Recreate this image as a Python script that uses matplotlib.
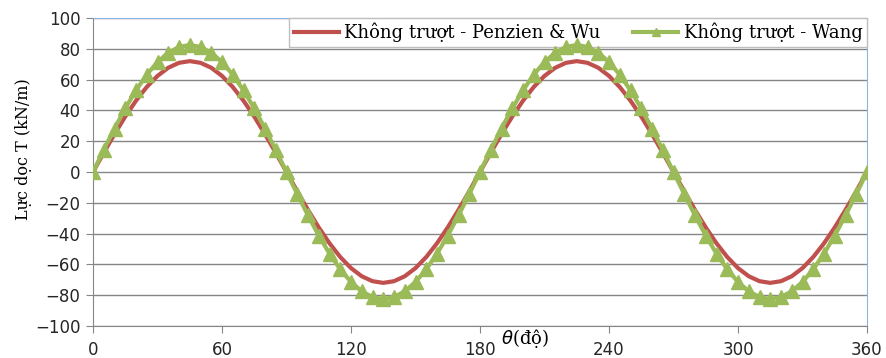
import matplotlib
matplotlib.use("Agg")
import matplotlib.pyplot as plt

theta = list(range(0, 365, 5))

penzien_wu = [
    0, 12.5, 24.6, 36.0, 46.3, 55.2, 62.4, 67.7, 70.9, 72.0, 70.9, 67.7, 62.4, 55.2, 46.3, 36.0, 24.6, 12.5, 0,
    -12.5, -24.6, -36.0, -46.3, -55.2, -62.4, -67.7, -70.9, -72.0, -70.9, -67.7, -62.4, -55.2, -46.3, -36.0, -24.6, -12.5, 0,
    12.5, 24.6, 36.0, 46.3, 55.2, 62.4, 67.7, 70.9, 72.0, 70.9, 67.7, 62.4, 55.2, 46.3, 36.0, 24.6, 12.5, 0,
    -12.5, -24.6, -36.0, -46.3, -55.2, -62.4, -67.7, -70.9, -72.0, -70.9, -67.7, -62.4, -55.2, -46.3, -36.0, -24.6, -12.5, 0,
]

wang = [
    0, 14.3, 28.2, 41.3, 53.0, 63.2, 71.4, 77.5, 81.2, 82.5, 81.2, 77.5, 71.4, 63.2, 53.0, 41.3, 28.2, 14.3, 0,
    -14.3, -28.2, -41.3, -53.0, -63.2, -71.4, -77.5, -81.2, -82.5, -81.2, -77.5, -71.4, -63.2, -53.0, -41.3, -28.2, -14.3, 0,
    14.3, 28.2, 41.3, 53.0, 63.2, 71.4, 77.5, 81.2, 82.5, 81.2, 77.5, 71.4, 63.2, 53.0, 41.3, 28.2, 14.3, 0,
    -14.3, -28.2, -41.3, -53.0, -63.2, -71.4, -77.5, -81.2, -82.5, -81.2, -77.5, -71.4, -63.2, -53.0, -41.3, -28.2, -14.3, 0,
]

x_ticks = [0, 60, 120, 180, 240, 300, 360]
y_ticks = [-100, -80, -60, -40, -20, 0, 20, 40, 60, 80, 100]

label_pw = "Không trượt - Penzien & Wu"
label_wang = "Không trượt - Wang"
y_label = "Lực dọc T (kN/m)"
x_label = r"$\theta$" + "(độ)"

fig = plt.figure(figsize=(8.87, 3.58), dpi=100)
ax = fig.add_axes([93/887, 1-326/358, (867-93)/887, (326-18)/358])

ax.plot(theta, penzien_wu, color="#C0504D", lw=3, label=label_pw, zorder=3)
ax.plot(theta, wang, color="#9BBB59", lw=3, marker="^", markersize=10.5,
        markerfacecolor="#9BBB59", markeredgecolor="#9BBB59", label=label_wang, zorder=4)

ax.set_xlim(0, 360)
ax.set_ylim(-100, 100)
ax.set_xticks(x_ticks)
ax.set_yticks(y_ticks)
ax.grid(axis="y", color="#868686", lw=1)
ax.set_axisbelow(True)

for s in ["left", "bottom"]:
    ax.spines[s].set_color("#868686")
for s in ["top", "right"]:
    ax.spines[s].set_color("#8EB4E3")
ax.tick_params(axis="both", colors="#868686", length=5, labelsize=12, labelcolor="#262626", direction="out")
ax.tick_params(axis="y", pad=4)
ax.tick_params(axis="x", pad=6)

leg = ax.legend(loc="upper right", bbox_to_anchor=(1.0, 1.0), borderaxespad=0, ncol=2,
                frameon=True, fancybox=False, framealpha=1, edgecolor="#BFBFBF",
                prop={"family": "DejaVu Serif", "size": 13}, handlelength=2.5,
                handletextpad=0.3, columnspacing=1.8, borderpad=0.25, markerscale=0.6)
leg.get_frame().set_linewidth(1.0)
leg.set_zorder(2.5)

ax.set_ylabel(y_label, family="DejaVu Serif", fontsize=11.5)
ax.yaxis.set_label_coords(-0.079, 0.575)
ax.text(201, -0.04, x_label, transform=ax.get_xaxis_transform(), ha="center", va="center",
        fontsize=13, family="DejaVu Serif")

fig.savefig("out.png", dpi=100)
